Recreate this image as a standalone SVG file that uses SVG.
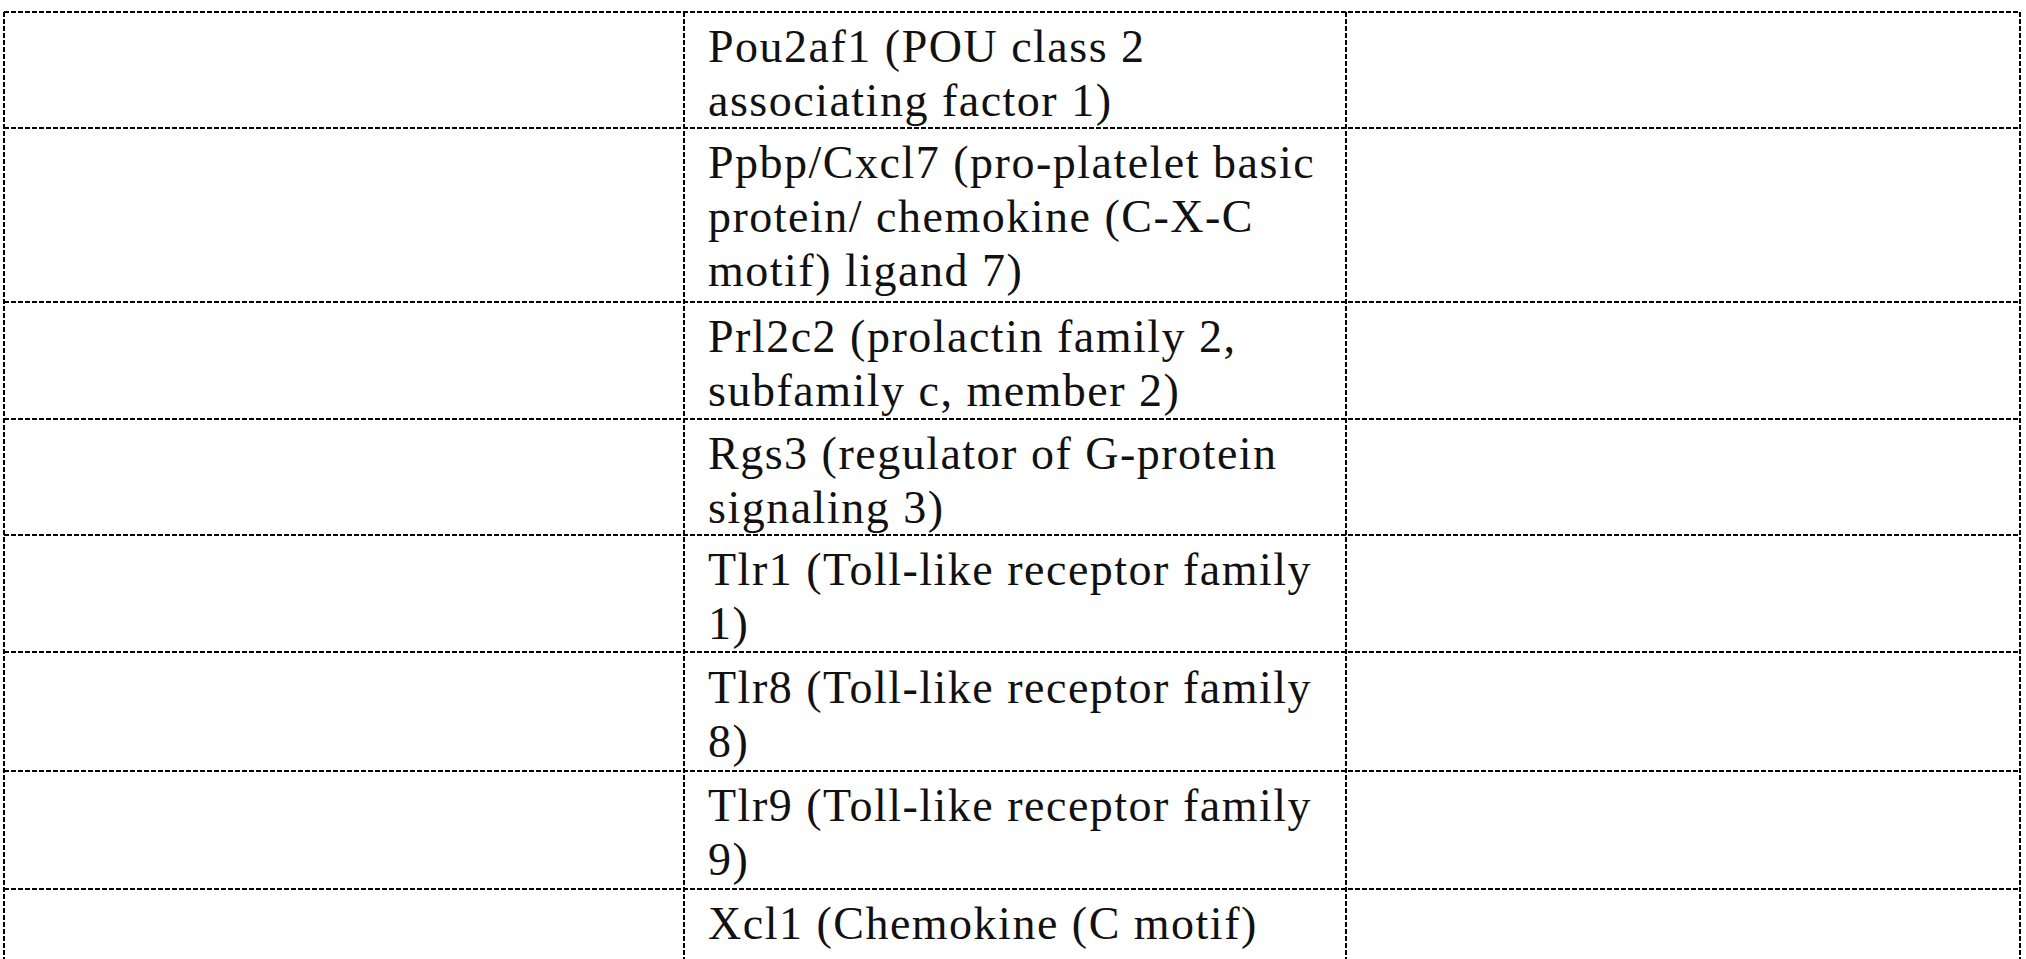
<svg xmlns="http://www.w3.org/2000/svg" width="2026" height="959" viewBox="0 0 2026 959">
<style>
.l{stroke:#000;stroke-width:2;stroke-dasharray:5 2;fill:none}
.t{font-family:'Liberation Serif','DejaVu Serif',serif;font-size:46px;fill:#111;letter-spacing:1.5px}
</style>
<rect width="2026" height="959" fill="#fff"/>
<g id="grid">
<path class="l" d="M4 12H2020M4 128H2020M4 302H2020M4 419H2020M4 535H2020M4 652H2020M4 771H2020M4 889H2020"/>
<path class="l" d="M4 12V959M684 12V959M1346 12V959M2020 12V959"/>
</g>
<g id="cells" class="t" font-family="Liberation Serif, serif">
<text x="708" y="62">Pou2af1 (POU class 2</text>
<text x="708" y="116">associating factor 1)</text>
<text x="708" y="178">Ppbp/Cxcl7 (pro-platelet basic</text>
<text x="708" y="232">protein/ chemokine (C-X-C</text>
<text x="708" y="286">motif) ligand 7)</text>
<text x="708" y="352">Prl2c2 (prolactin family 2,</text>
<text x="708" y="406">subfamily c, member 2)</text>
<text x="708" y="469">Rgs3 (regulator of G-protein</text>
<text x="708" y="523">signaling 3)</text>
<text x="708" y="585">Tlr1 (Toll-like receptor family</text>
<text x="708" y="639">1)</text>
<text x="708" y="703">Tlr8 (Toll-like receptor family</text>
<text x="708" y="757">8)</text>
<text x="708" y="821">Tlr9 (Toll-like receptor family</text>
<text x="708" y="875">9)</text>
<text x="708" y="939">Xcl1 (Chemokine (C motif)</text>
</g>
</svg>
